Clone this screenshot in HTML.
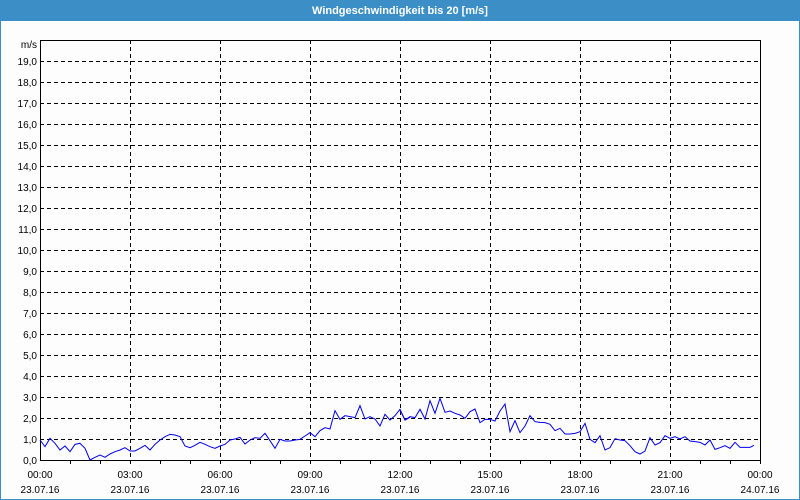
<!DOCTYPE html>
<html><head><meta charset="utf-8"><style>
html,body{margin:0;padding:0;background:#fff}
svg{display:block;font-family:"Liberation Sans","DejaVu Sans",sans-serif}
</style></head><body>
<svg width="800" height="500" viewBox="0 0 800 500" xmlns="http://www.w3.org/2000/svg">
<rect x="0" y="0" width="800" height="500" fill="#fcfdfc"/>
<rect x="0" y="0" width="800" height="21" fill="#3c8fc6"/>
<rect x="0.5" y="0.5" width="799" height="499" fill="none" stroke="#3c8fc6"/>
<text x="400" y="14" text-anchor="middle" font-size="11" font-weight="bold" fill="#fff">Windgeschwindigkeit bis 20 [m/s]</text>
<g stroke="#000" stroke-width="1" stroke-dasharray="4,3" fill="none">
<path d="M40 439.5H760M40 418.5H760M40 397.5H760M40 376.5H760M40 355.5H760M40 334.5H760M40 313.5H760M40 292.5H760M40 271.5H760M40 250.5H760M40 229.5H760M40 208.5H760M40 187.5H760M40 166.5H760M40 145.5H760M40 124.5H760M40 103.5H760M40 82.5H760M40 61.5H760"/>
<path d="M130.5 40V460M220.5 40V460M310.5 40V460M400.5 40V460M490.5 40V460M580.5 40V460M670.5 40V460"/>
</g>
<rect x="40.5" y="40.5" width="720" height="420" fill="none" stroke="#000"/>
<g stroke="#000"><path d="M70.5 460v4M100.5 460v4M130.5 460v4M160.5 460v4M190.5 460v4M220.5 460v4M250.5 460v4M280.5 460v4M310.5 460v4M340.5 460v4M370.5 460v4M400.5 460v4M430.5 460v4M460.5 460v4M490.5 460v4M520.5 460v4M550.5 460v4M580.5 460v4M610.5 460v4M640.5 460v4M670.5 460v4M700.5 460v4M730.5 460v4M760.5 460v4"/></g>
<g font-size="10" fill="#000" text-anchor="end">
<text x="37" y="48">m/s</text>
<text x="37" y="464">0,0</text><text x="37" y="443">1,0</text><text x="37" y="422">2,0</text><text x="37" y="401">3,0</text><text x="37" y="380">4,0</text><text x="37" y="359">5,0</text><text x="37" y="338">6,0</text><text x="37" y="317">7,0</text><text x="37" y="296">8,0</text><text x="37" y="275">9,0</text><text x="37" y="254">10,0</text><text x="37" y="233">11,0</text><text x="37" y="212">12,0</text><text x="37" y="191">13,0</text><text x="37" y="170">14,0</text><text x="37" y="149">15,0</text><text x="37" y="128">16,0</text><text x="37" y="107">17,0</text><text x="37" y="86">18,0</text><text x="37" y="65">19,0</text>
</g>
<g font-size="10" fill="#000" text-anchor="middle">
<text x="40" y="478">00:00</text><text x="40" y="493">23.07.16</text>
<text x="130" y="478">03:00</text><text x="130" y="493">23.07.16</text>
<text x="220" y="478">06:00</text><text x="220" y="493">23.07.16</text>
<text x="310" y="478">09:00</text><text x="310" y="493">23.07.16</text>
<text x="400" y="478">12:00</text><text x="400" y="493">23.07.16</text>
<text x="490" y="478">15:00</text><text x="490" y="493">23.07.16</text>
<text x="580" y="478">18:00</text><text x="580" y="493">23.07.16</text>
<text x="670" y="478">21:00</text><text x="670" y="493">23.07.16</text>
<text x="760" y="478">00:00</text><text x="760" y="493">24.07.16</text>
</g>
<g fill="none" stroke="#0000ee" stroke-width="1">
<polyline transform="translate(30,380) scale(0.33333)" vector-effect="non-scaling-stroke" points="30,180 45,200 60,175 75,190 90,210 105,198 120,215 135,193 150,190 165,205 180,240 195,232 210,225 225,232 240,222 255,215 270,210 285,203 300,213 315,213 330,205 345,196 360,210 375,193 390,180 405,170 420,163 435,165 450,170 465,198 480,203 495,196 510,187 525,193 540,200 555,205 570,198 585,193 600,180 615,177 630,172 645,192 660,180 675,173 690,175 705,160 720,182 735,205 750,178 765,183 780,183 795,180 810,178 825,168 840,158 855,170 870,152 885,143 900,147 915,92 930,118 945,107 960,110 975,113 990,77 1005,117 1020,110 1035,117 1050,138 1065,103 1080,120 1095,107 1110,88 1125,120 1140,112"/>
<polyline transform="translate(400,380) scale(0.33333)" vector-effect="non-scaling-stroke" points="0,90 15,120 30,110 45,113 60,88 75,117 90,62 105,100 120,55 135,97 150,93 165,100 180,105 195,115 210,95 225,87 240,128 255,118 270,118 285,123 300,93 315,72 330,155 345,122 360,158 375,138 390,107 405,125 420,127 435,128 450,133 465,152 480,145 495,162 510,162 525,160 540,155 555,130 570,178 585,188 600,167 615,210 630,203 645,176 660,180 675,182 690,197 705,215 720,222 735,213 750,173 765,195 780,188 795,167 810,175 825,170 840,177 855,170 870,183 885,185 900,187 915,195 930,180 945,208 960,203 975,197 990,205 1005,187 1020,202 1035,202 1050,202 1062,196"/>
</g>
</svg>
</body></html>
